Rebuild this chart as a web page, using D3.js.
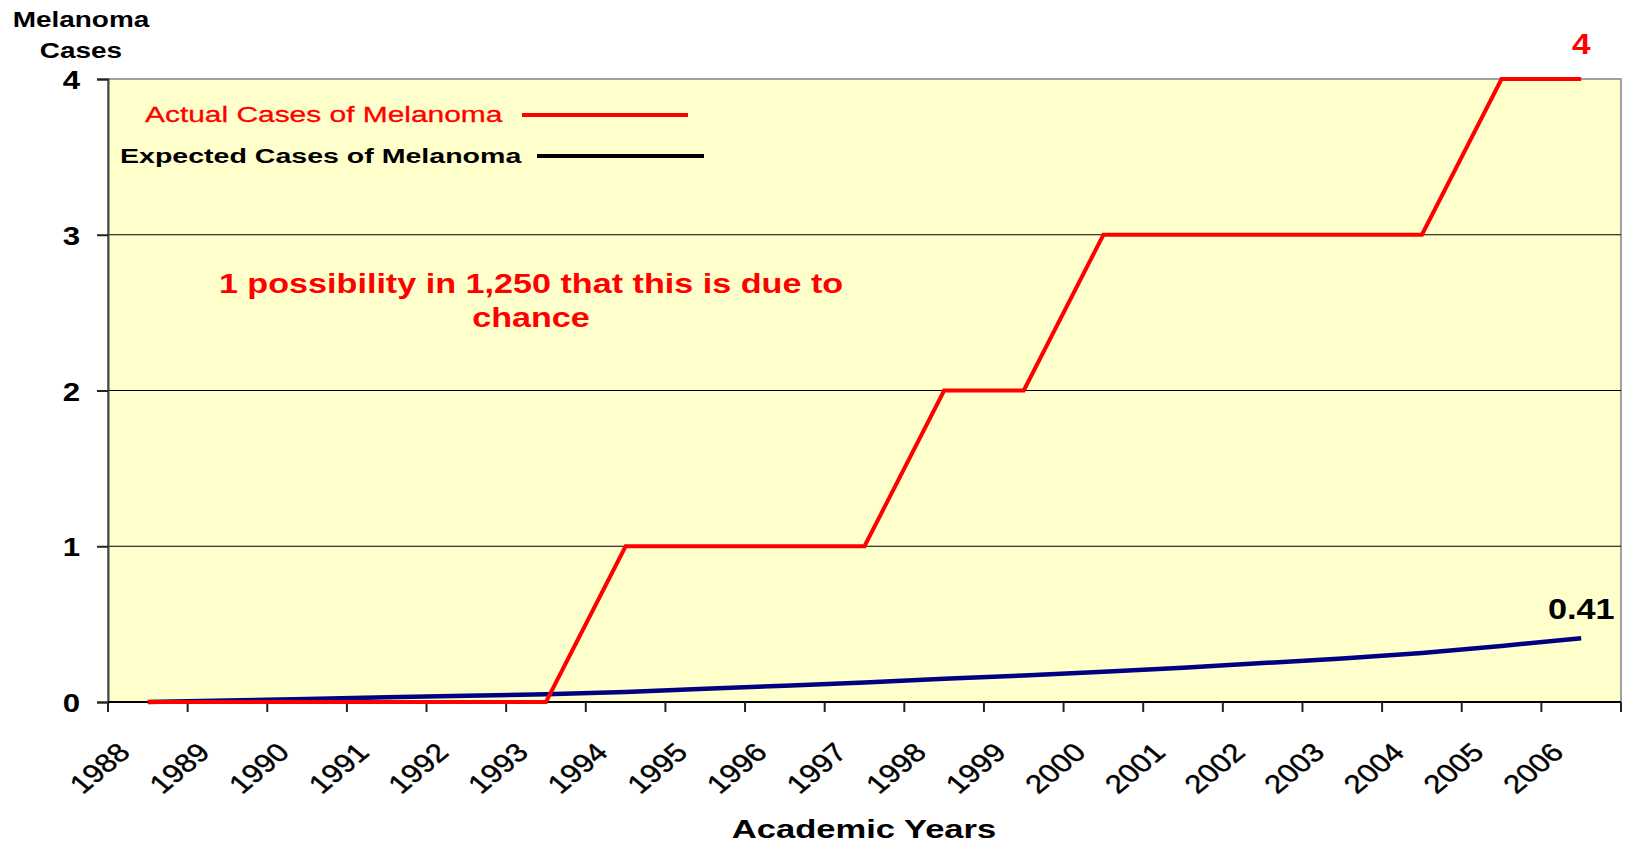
<!DOCTYPE html>
<html>
<head>
<meta charset="utf-8">
<script src="https://cdn.jsdelivr.net/npm/d3@7"></script>
<style>
  body { margin: 0; background: #fff; }
  text { font-family: "Liberation Sans", Arial, sans-serif; }
</style>
</head>
<body>
<script>
// Melanoma cases per academic year

var years = ["1988","1989","1990","1991","1992","1993","1994","1995","1996","1997",
             "1998","1999","2000","2001","2002","2003","2004","2005","2006"];
var actualCases = [0,0,0,0,0,0,1,1,1,1,2,2,3,3,3,3,3,4,4];
var expectedCases = [0,0.01,0.02,0.03,0.04,0.05,0.065,0.085,0.105,0.125,
                     0.15,0.17,0.195,0.22,0.25,0.28,0.315,0.36,0.41];
var yTicks = [0,1,2,3,4];

var width = 1628;
var height = 843;

var svg = d3.select("body").append("svg")
    .attr("width", width)
    .attr("height", height);

var x = d3.scaleBand().domain(years).range([108, 1621]).padding(0);
var y = d3.scaleLinear().domain([0, 4]).range([702, 79]);
var cx = function(yr) { return x(yr) + x.bandwidth() / 2; };

// stretched text, the picture is wider than the font
function label(txt, px, py, sx, size, weight, color, anchor) {
  return svg.append("text")
    .text(txt)
    .attr("transform", "translate(" + px + "," + py + ") scale(" + sx + ",1)")
    .attr("text-anchor", anchor || "start")
    .style("font-size", size + "px")
    .style("font-weight", weight)
    .style("fill", color);
}

// plot background
svg.append("rect")
    .attr("x", 108)
    .attr("y", y(4))
    .attr("width", 1621 - 108)
    .attr("height", y(0) - y(4))
    .style("fill", "#ffffcc")
    .style("stroke", "#a0a0a0")
    .style("stroke-width", 2);

// gridlines
svg.selectAll(".grid")
    .data([1,2,3])
    .enter().append("line")
    .attr("x1", 108).attr("x2", 1621)
    .attr("y1", function(d) { return y(d); })
    .attr("y2", function(d) { return y(d); })
    .attr("stroke", "#000")
    .attr("stroke-width", 1);

// y axis
var yAxis = svg.append("g")
    .attr("transform", "translate(108,0)")
    .call(d3.axisLeft(y).tickValues(yTicks).tickSize(11).tickFormat(d3.format("d")));
yAxis.select(".domain").attr("stroke", "#444").attr("stroke-width", 2);
yAxis.selectAll(".tick line").attr("stroke", "#222").attr("stroke-width", 2);
yAxis.selectAll(".tick text").remove();
yTicks.forEach(function(t) {
  label(String(t), 80, y(t) + 10, 1.2, 26, "bold", "#000", "end");
});

// x axis
svg.append("line")
    .attr("x1", 108).attr("x2", 1621)
    .attr("y1", 702).attr("y2", 702)
    .attr("stroke", "#000")
    .attr("stroke-width", 2);

var tickPos = years.map(function(d) { return x(d); }).concat([1621]);
svg.selectAll(".xtick")
    .data(tickPos)
    .enter().append("line")
    .attr("x1", function(d) { return d; })
    .attr("x2", function(d) { return d; })
    .attr("y1", 702).attr("y2", 712)
    .attr("stroke", "#222")
    .attr("stroke-width", 2);

svg.selectAll(".xlab")
    .data(years)
    .enter().append("text")
    .text(function(d) { return d; })
    .attr("transform", function(d) {
      return "translate(" + (cx(d) - 16) + ",754) scale(1.2,1) rotate(-45)";
    })
    .attr("text-anchor", "end")
    .style("font-size", "26px")
    .style("fill", "#000")
    .style("stroke", "#000")
    .style("stroke-width", 0.4);

// lines
var line = d3.line()
    .x(function(d, i) { return cx(years[i]); })
    .y(function(d) { return y(d); });

svg.append("path")
    .datum(expectedCases)
    .attr("d", line)
    .attr("fill", "none")
    .attr("stroke", "#000080")
    .attr("stroke-width", 4.5);

svg.append("path")
    .datum(actualCases)
    .attr("d", line)
    .attr("fill", "none")
    .attr("stroke", "#ff0000")
    .attr("stroke-width", 4);

// end labels
var last = years.length - 1;
label(actualCases[last], cx(years[last]), 54, 1.15, 29, "bold", "#ff0000", "middle");
label(expectedCases[last], cx(years[last]), 619, 1.18, 29, "bold", "#000", "middle");

// legend
label("Actual Cases of Melanoma", 145, 122, 1.36, 22, "normal", "#ff0000")
    .style("stroke", "#ff0000").style("stroke-width", 0.3);
svg.append("line")
    .attr("x1", 522).attr("x2", 688)
    .attr("y1", 115).attr("y2", 115)
    .attr("stroke", "#ff0000").attr("stroke-width", 4);

label("Expected Cases of Melanoma", 120, 163, 1.36, 21, "bold", "#000");
svg.append("line")
    .attr("x1", 537).attr("x2", 704)
    .attr("y1", 156).attr("y2", 156)
    .attr("stroke", "#000").attr("stroke-width", 4);

// note
label("1 possibility in 1,250 that this is due to", 531, 293, 1.22, 28, "bold", "#ff0000", "middle");
label("chance", 531, 327, 1.22, 28, "bold", "#ff0000", "middle");

// axis titles
label("Melanoma", 81, 27, 1.27, 22, "bold", "#000", "middle");
label("Cases", 81, 58, 1.27, 22, "bold", "#000", "middle");
label("Academic Years", 864, 838, 1.35, 25.6, "bold", "#000", "middle");
</script>
</body>
</html>
